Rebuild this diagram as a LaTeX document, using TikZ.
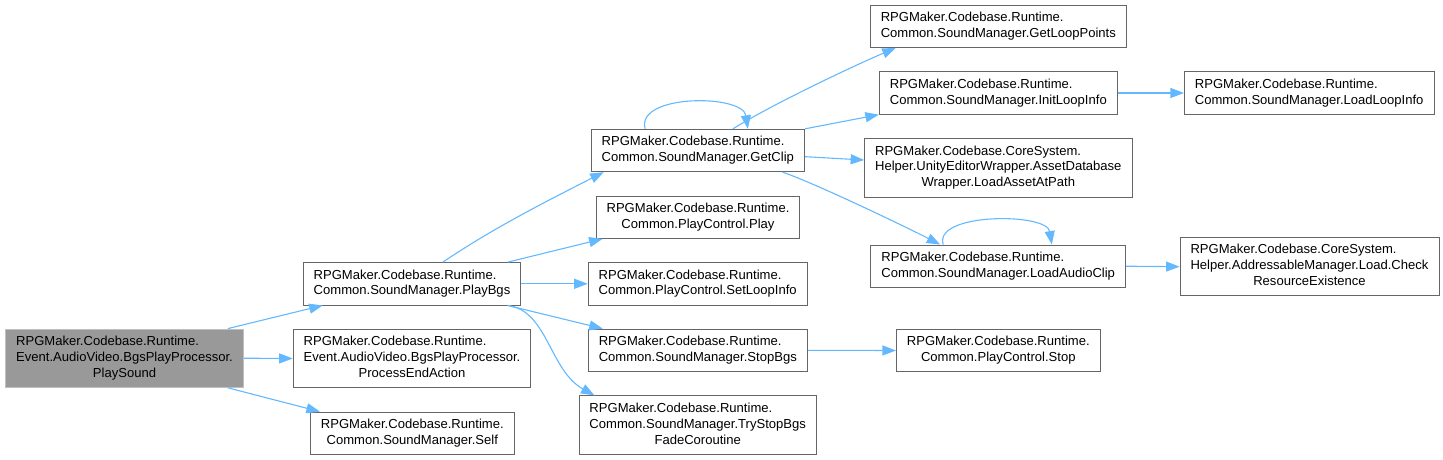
\documentclass[tikz,border=0pt]{standalone}
\usepackage{fontspec}
\setmainfont{Liberation Sans}
\usepackage{tikz}
\usetikzlibrary{arrows.meta}
\definecolor{edgeblue}{HTML}{63B8FF}
\definecolor{boxline}{HTML}{666666}
\definecolor{rootfill}{HTML}{999999}
\definecolor{rootline}{HTML}{BFBFBF}
% all lines left, last line centred
\newcommand{\fnbox}[2]{\begin{tabular}{@{}l@{}}#1\\\multicolumn{1}{@{}c@{}}{#2}\end{tabular}}

\begin{document}
\begin{tikzpicture}[x=1bp, y=-1bp,
    fn/.style={draw=boxline, fill=white, line width=0.9bp, inner xsep=10.5bp, inner ysep=5.25bp,
      font=\fontsize{13.1}{16}\selectfont},
    fnroot/.style={fn, draw=rootline, fill=rootfill},
    call/.style={edgeblue, line width=1.1bp, -{Triangle[length=13.5bp, width=10bp]}}]
    \useasboundingbox (0,0) rectangle (1443,460);

    % column 1
    \node[fnroot] (playsound) at (124.5,358.2)
      {\fnbox{RPGMaker.Codebase.Runtime.\\Event.AudioVideo.BgsPlayProcessor.}{PlaySound}};

    % column 2
    \node[fn] (playbgs) at (412,283.8)
      {\fnbox{RPGMaker.Codebase.Runtime.}{Common.SoundManager.PlayBgs}};
    \node[fn] (endaction) at (412,358.5)
      {\fnbox{RPGMaker.Codebase.Runtime.\\Event.AudioVideo.BgsPlayProcessor.}{ProcessEndAction}};
    \node[fn] (self) at (412.3,433.3)
      {\fnbox{RPGMaker.Codebase.Runtime.}{Common.SoundManager.Self}};

    % column 3
    \node[fn] (getclip) at (697.8,150.5)
      {\fnbox{RPGMaker.Codebase.Runtime.}{Common.SoundManager.GetClip}};
    \node[fn] (play) at (698,217.2)
      {\fnbox{RPGMaker.Codebase.Runtime.}{Common.PlayControl.Play}};
    \node[fn] (setloop) at (697.7,283.8)
      {\fnbox{RPGMaker.Codebase.Runtime.}{Common.PlayControl.SetLoopInfo}};
    \node[fn] (stopbgs) at (697.8,350.3)
      {\fnbox{RPGMaker.Codebase.Runtime.}{Common.SoundManager.StopBgs}};
    \node[fn] (trystop) at (697.7,425)
      {\fnbox{RPGMaker.Codebase.Runtime.\\Common.SoundManager.TryStopBgs}{FadeCoroutine}};

    % column 4
    \node[fn] (getloop) at (998.3,26.3)
      {\fnbox{RPGMaker.Codebase.Runtime.}{Common.SoundManager.GetLoopPoints}};
    \node[fn] (initloop) at (998.3,93)
      {\fnbox{RPGMaker.Codebase.Runtime.}{Common.SoundManager.InitLoopInfo}};
    \node[fn] (assetdb) at (998.3,167.8)
      {\fnbox{RPGMaker.Codebase.CoreSystem.\\Helper.UnityEditorWrapper.AssetDatabase}{Wrapper.LoadAssetAtPath}};
    \node[fn] (loadclip) at (998.2,266.2)
      {\fnbox{RPGMaker.Codebase.Runtime.}{Common.SoundManager.LoadAudioClip}};
    \node[fn] (stop) at (998.3,350.5)
      {\fnbox{RPGMaker.Codebase.Runtime.}{Common.PlayControl.Stop}};

    % column 5
    \node[fn] (loadloop) at (1309.2,93)
      {\fnbox{RPGMaker.Codebase.Runtime.}{Common.SoundManager.LoadLoopInfo}};
    \node[fn] (checkres) at (1309.5,266.7)
      {\fnbox{RPGMaker.Codebase.CoreSystem.\\Helper.AddressableManager.Load.Check}{ResourceExistence}};

    % calls from PlaySound
    \draw[call] ([xshift=-16]playsound.north east) -- ([xshift=20]playbgs.south west);
    \draw[call] (playsound.east) -- (endaction.west);
    \draw[call] ([xshift=-16]playsound.south east) -- ([xshift=10]self.north west);

    % calls from PlayBgs
    \draw[call] ([xshift=31]playbgs.north) .. controls +(50,-34) and +(-55,28) .. ([xshift=13]getclip.south west);
    \draw[call] ([xshift=-13.7]playbgs.north east) -- ([xshift=7]play.south west);
    \draw[call] (playbgs.east) -- (setloop.west);
    \draw[call] ([xshift=-13.7]playbgs.south east) -- ([xshift=15]stopbgs.north west);
    \draw[call] ([xshift=-13.7]playbgs.south east) .. controls +(40,5) and +(-45,-25) .. ([xshift=16]trystop.north west);

    % calls from GetClip
    \draw[call] ([xshift=-52.8]getclip.north) .. controls +(-10,-35) and +(-5,-35) .. ([xshift=50.2]getclip.north);
    \draw[call] ([xshift=35.2]getclip.north) .. controls +(40,-25) and +(-40,17) .. ([xshift=26]getloop.south west);
    \draw[call] (getclip.north east) -- (initloop.south west);
    \draw[call] ([yshift=-6.2]getclip.east) -- ([yshift=7.8]assetdb.west);
    \draw[call] ([xshift=85]getclip.south) .. controls +(30,10) and +(-35,-18) .. ([xshift=-58.2]loadclip.north);

    % deeper calls
    \draw[call] ([xshift=-55.2]loadclip.north) .. controls +(-10,-32) and +(-5,-32) .. ([xshift=53.8]loadclip.north);
    \draw[call] (initloop.east) -- (loadloop.west);
    \draw[call] (loadclip.east) -- (checkres.west);
    \draw[call] (stopbgs.east) -- (stop.west);
  \end{tikzpicture}
\end{document}
